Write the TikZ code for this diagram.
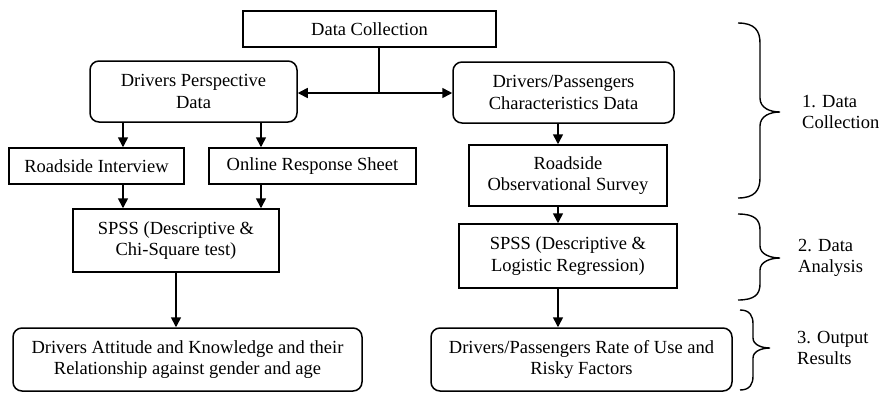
\documentclass[tikz,border=0pt]{standalone}
\usepackage{fontspec}
\setmainfont{Liberation Serif}
\usetikzlibrary{arrows.meta}
\begin{document}
\begin{tikzpicture}[x=1pt,y=-1pt,
  every node/.style={font=\fontsize{18.5}{21.5}\selectfont, align=center, inner sep=0pt},
  sqbox/.style={draw, line width=1.5pt, minimum width=#1},
  rbox/.style={draw, line width=1.5pt, rounded corners=9pt, minimum width=#1},
  arr/.style={line width=1.6pt, -{Triangle[length=10pt,width=10pt]}},
  ln/.style={line width=1.6pt},
  brc/.style={line width=1.4pt},
  lab/.style={anchor=west, align=left}]
\useasboundingbox (0,0) rectangle (881,392);
% nodes
\node[sqbox=253, minimum height=36] (DC) at (369.5,29) {Data Collection};
\node[rbox=207, minimum height=61] (DP) at (193.5,91.5) {Drivers Perspective\\Data};
\node[rbox=221, minimum height=61] (DPC) at (563.5,92.5) {Drivers/Passengers\\Characteristics Data};
\node[sqbox=175, minimum height=36] (RI) at (96.5,166) {Roadside Interview};
\node[sqbox=207, minimum height=36] (ORS) at (312.5,166) {Online Response Sheet};
\node[sqbox=206, minimum height=63] (S1) at (176,240.5) {SPSS (Descriptive \&\\Chi-Square test)};
\node[rbox=349, minimum height=63] (O1) at (187.5,359.5) {Drivers Attitude and Knowledge and their\\Relationship against gender and age};
\node[sqbox=198, minimum height=61] (ROS) at (568,175.5) {Roadside\\Observational Survey};
\node[sqbox=218, minimum height=64] (S2) at (568,256) {SPSS (Descriptive \&\\Logistic Regression)};
\node[rbox=301, minimum height=63] (O2) at (581.5,359.5) {Drivers/Passengers Rate of Use and\\Risky Factors};
% connectors
\coordinate (J) at (379,93);
\draw[ln] (DC.south -| J) -- (J);
\draw[arr] (J) -- (DP.east |- J);
\draw[arr] (J) -- (DPC.west |- J);
\draw[arr] (DP.south -| 123,0) -- (RI.north -| 123,0);
\draw[arr] (DP.south -| 261,0) -- (ORS.north -| 261,0);
\draw[arr] (RI.south -| 123,0) -- (S1.north -| 123,0);
\draw[arr] (ORS.south -| 261,0) -- (S1.north -| 261,0);
\draw[arr] (S1.south) -- (O1.north -| S1.south);
\draw[arr] (DPC.south -| 558,0) -- (ROS.north -| 558,0);
\draw[arr] (ROS.south -| 558,0) -- (S2.north -| 558,0);
\draw[arr] (S2.south -| 558,0) -- (O2.north -| 558,0);
% braces
\draw[brc] (738,23) .. controls (755,23) and (760,31) .. (760,43) -- (760,98)
  .. controls (760,108) and (770,112) .. (780,112)
  .. controls (770,112) and (760,116) .. (760,126) -- (760,178)
  .. controls (760,190) and (755,198) .. (738,198);
\draw[brc] (738,214) .. controls (755,214) and (760,220) .. (760,230) -- (760,246)
  .. controls (760,254) and (770,258) .. (780,258)
  .. controls (770,258) and (760,262) .. (760,270) -- (760,284)
  .. controls (760,294) and (755,300) .. (738,300);
\draw[brc] (740,310) .. controls (750,310) and (753,316) .. (753,324) -- (753,338)
  .. controls (753,345) and (762,348) .. (770,348)
  .. controls (762,348) and (753,351) .. (753,358) -- (753,376)
  .. controls (753,384) and (750,390) .. (740,390);
\node[lab] (L1) at (802,112) {1. Data\\Collection};
\node[lab] (L2) at (798,258) {2. Data\\Analysis};
\node[lab] (L3) at (797,348) {3. Output\\Results};
\end{tikzpicture}
\end{document}
